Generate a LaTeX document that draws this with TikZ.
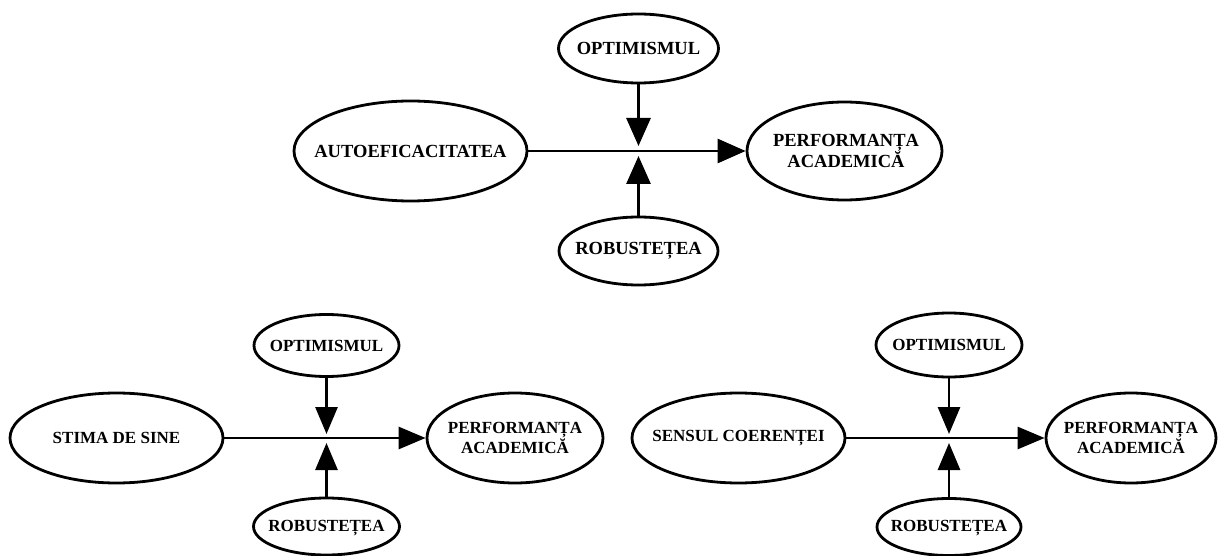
\documentclass[tikz,border=0pt]{standalone}
\usepackage{fontspec}
\setmainfont{Liberation Serif}
\usetikzlibrary{shapes.geometric,arrows.meta}
\tikzset{
  oval/.style={draw=black, ellipse, line width=2.8pt, inner sep=0pt, fill=white},
  lbltop/.style={font=\bfseries\fontsize{18.5}{21}\selectfont, align=center, inner sep=0pt},
  lblbot/.style={font=\bfseries\fontsize{17}{20}\selectfont, align=center, inner sep=0pt},
  conn/.style={line width=2.8pt, draw=black},
  bigtip/.style={-{Triangle[length=28pt,width=24pt]}},
  smalltip/.style={-{Triangle[length=27pt,width=22pt]}}
}
\begin{document}
\begin{tikzpicture}[x=1pt,y=-1pt]
\useasboundingbox (0,0) rectangle (1218,556);
\fill[white] (0,0) rectangle (1218,556);

% ---------- top diagram ----------
\node[oval, minimum width=233pt, minimum height=100pt] (ta) at (410.5,151) {};
\node[lbltop] (tat) at (ta) {AUTOEFICACITATEA};
\node[oval, minimum width=195pt, minimum height=98pt] (tp) at (844.5,151) {};
\node[lbltop] (tpt) at (846,151) {PERFORMANȚA\\ACADEMICĂ};
\node[oval, minimum width=160pt, minimum height=69pt] (to) at (638.5,48.5) {};
\node[lbltop] (tot) at (to) {OPTIMISMUL};
\node[oval, minimum width=159pt, minimum height=68pt] (tr) at (638.5,251) {};
\node[lbltop] (trt) at (tr) {ROBUSTEȚEA};
\coordinate (tct) at (638.5,146);
\coordinate (tcb) at (638.5,156);
\draw[conn, bigtip] (ta) -- (tp);
\draw[conn, bigtip] (to) -- (tct);
\draw[conn, bigtip] (tr) -- (tcb);

% ---------- bottom-left diagram ----------
\node[oval, minimum width=213pt, minimum height=90pt] (la) at (116.5,438) {};
\node[lblbot] (lat) at (la) {STIMA DE SINE};
\node[oval, minimum width=176pt, minimum height=90pt] (lp) at (515,438) {};
\node[lblbot] (lpt) at (lp) {PERFORMANȚA\\ACADEMICĂ};
\node[oval, minimum width=145pt, minimum height=62pt] (lo) at (326.5,345.5) {};
\node[lblbot] (lot) at (lo) {OPTIMISMUL};
\node[oval, minimum width=146pt, minimum height=57pt] (lr) at (326.5,526.5) {};
\node[lblbot] (lrt) at (326.5,528) {ROBUSTEȚEA};
\coordinate (lct) at (326.5,434);
\coordinate (lcb) at (326.5,443);
\draw[conn, smalltip] (la) -- (lp);
\draw[conn, smalltip] (lo) -- (lct);
\draw[conn, smalltip] (lr) -- (lcb);

% ---------- bottom-right diagram ----------
\node[oval, minimum width=213pt, minimum height=90pt] (ra) at (738.5,438) {};
\node[lblbot] (rat) at (ra) {SENSUL COERENȚEI};
\node[oval, minimum width=170pt, minimum height=90pt] (rp) at (1131,438) {};
\node[lblbot] (rpt) at (rp) {PERFORMANȚA\\ACADEMICĂ};
\node[oval, minimum width=146pt, minimum height=64pt] (ro) at (949,345) {};
\node[lblbot] (rot) at (ro) {OPTIMISMUL};
\node[oval, minimum width=144pt, minimum height=57pt] (rr) at (949,527) {};
\node[lblbot] (rrt) at (949,528.5) {ROBUSTEȚEA};
\coordinate (rct) at (949,434);
\coordinate (rcb) at (949,443);
\draw[conn, smalltip] (ra) -- (rp);
\draw[conn, smalltip] (ro) -- (rct);
\draw[conn, smalltip] (rr) -- (rcb);
\end{tikzpicture}
\end{document}
